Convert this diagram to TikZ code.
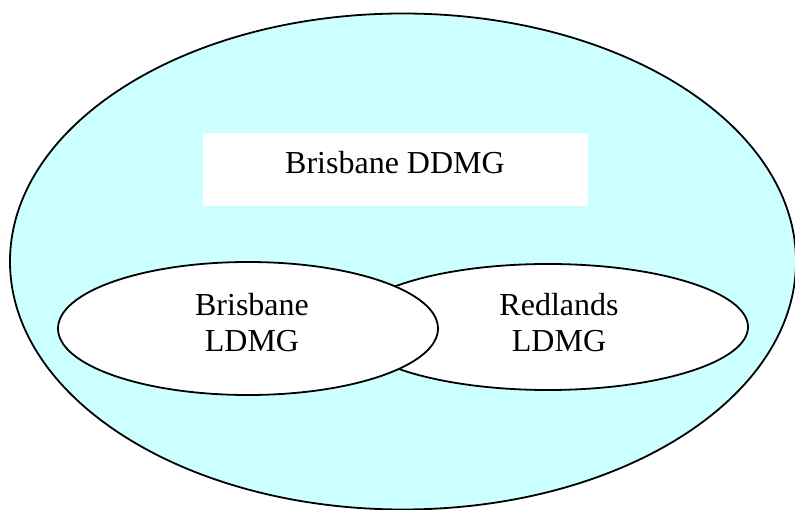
\documentclass[tikz,border=0pt]{standalone}
\usepackage{fontspec}
\setmainfont{Liberation Serif}
\usetikzlibrary{shapes.geometric}
\definecolor{paleCyan}{RGB}{204,255,255}
\begin{document}
\begin{tikzpicture}[x=1pt,y=-1pt,
  blob/.style={ellipse, draw=black, line width=1.8pt, inner sep=0pt},
  label/.style={font=\fontsize{32}{36.7}\selectfont, align=center, inner sep=0pt}]
\useasboundingbox (0,0) rectangle (795,510);
\begin{scope}
\clip (0,0) rectangle (795,510);
\node[blob, fill=paleCyan, minimum width=786pt, minimum height=496pt] (outer) at (403,261.5) {};
\end{scope}
\node[fill=white, minimum width=385pt, minimum height=73pt, inner sep=0pt] (box) at (395.5,169.5) {};
\node[label, anchor=base] (ddmg) at (395,174) {Brisbane DDMG};
\node[blob, fill=white, minimum width=400pt, minimum height=126pt] (redlands) at (548,327) {};
\node[blob, fill=white, minimum width=380pt, minimum height=133pt] (brisbane) at (248,328.5) {};
\node[label, anchor=base] (bl) at (252,352) {Brisbane\\LDMG};
\node[label, anchor=base] (rl) at (559,352) {Redlands\\LDMG};
\end{tikzpicture}
\end{document}
